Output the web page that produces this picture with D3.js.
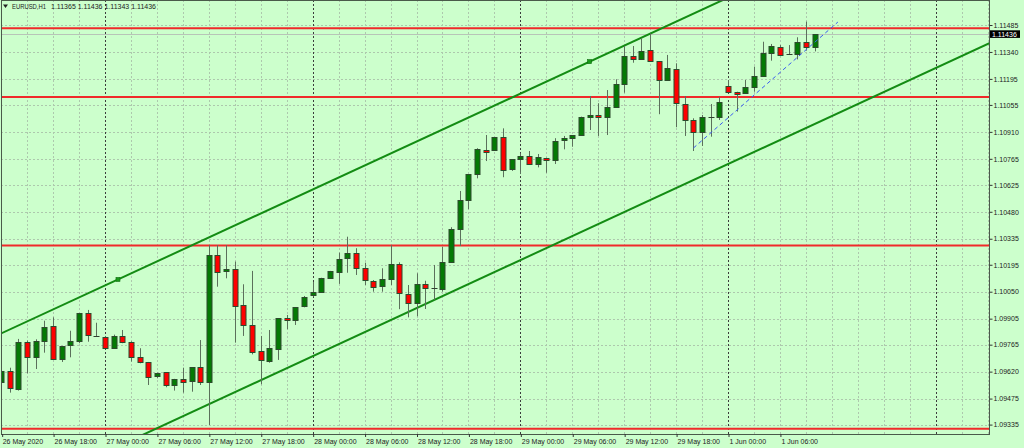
<!DOCTYPE html>
<html><head><meta charset="utf-8">
<script src="https://cdn.jsdelivr.net/npm/d3@7"></script>
<style>
html,body{margin:0;padding:0;background:#ccffcc;}
svg{display:block;}
text{font-family:"Liberation Sans",Arial,sans-serif;}
</style></head><body>
<svg id="c" width="1024" height="448"></svg>
<script>
// ---- data ----
const symbolName = "EURUSD,H1";
const ohlcHeader = "1.11365 1.11436 1.11343 1.11436";
const firstBar = -12; // bar index of 26 May 12:00 (index 0 = 27 May 00:00, hourly bars)
const opens = [1.09564,1.09624,1.09527,1.09780,1.09700,1.09787,1.09866,1.09687,1.09760,1.09781,1.09933,1.09812,
1.09808,1.09749,1.09812,1.09780,1.09697,1.09672,1.09593,1.09618,1.09547,1.09581,1.09566,1.09643,
1.09563,1.10248,1.10160,1.10172,1.09979,1.09871,1.09730,1.09674,1.09740,1.09910,1.09894,1.09969,
1.10029,1.10050,1.10125,1.10158,1.10230,1.10257,1.10176,1.10108,1.10077,1.10117,1.10198,1.10036,
1.09988,1.10092,1.10069,1.10065,1.10206,1.10386,1.10543,1.10682,1.10813,1.10809,1.10884,1.10709,
1.10762,1.10780,1.10736,1.10771,1.10762,1.10863,1.10876,1.10893,1.10988,1.11001,1.10988,1.11045,
1.11168,1.11318,1.11300,1.11351,1.11291,1.11189,1.11248,1.11060,1.10974,1.10908,1.10988,1.10990,
1.11157,1.11126,1.11118,1.11153,1.11211,1.11336,1.11368,1.11327,1.11329,1.11392,1.11365];
const highs = [1.09726,1.09641,1.09796,1.09787,1.09794,1.09894,1.09912,1.09758,1.09840,1.09934,1.09952,1.09883,
1.09812,1.09819,1.09844,1.09783,1.09746,1.09672,1.09615,1.09618,1.09581,1.09641,1.09643,1.09790,
1.10301,1.10301,1.10301,1.10212,1.10090,1.10162,1.09812,1.09844,1.09907,1.09925,1.09966,1.10027,
1.10102,1.10125,1.10162,1.10260,1.10346,1.10284,1.10206,1.10113,1.10176,1.10301,1.10208,1.10086,
1.10149,1.10109,1.10194,1.10292,1.10397,1.10592,1.10683,1.10822,1.10893,1.10881,1.10929,1.10763,
1.10795,1.10807,1.10791,1.10771,1.10876,1.10888,1.10893,1.10992,1.11103,1.11064,1.11135,1.11193,
1.11372,1.11372,1.11414,1.11440,1.11291,1.11324,1.11279,1.11103,1.10983,1.11001,1.11060,1.11098,
1.11189,1.11126,1.11189,1.11261,1.11395,1.11383,1.11377,1.11377,1.11419,1.11503,1.11436];
const lows = [1.09554,1.09507,1.09518,1.09611,1.09634,1.09722,1.09685,1.09672,1.09697,1.09773,1.09781,1.09809,
1.09747,1.09746,1.09773,1.09674,1.09665,1.09548,1.09584,1.09536,1.09518,1.09507,1.09512,1.09548,
1.09333,1.10077,1.10122,1.09776,1.09812,1.09713,1.09552,1.09668,1.09683,1.09848,1.09871,1.09966,
1.10023,1.10049,1.10124,1.10092,1.10152,1.10140,1.10086,1.10050,1.10050,1.10086,1.09956,1.09912,
1.09918,1.09957,1.10006,1.10050,1.10205,1.10296,1.10494,1.10660,1.10753,1.10808,1.10666,1.10700,
1.10683,1.10732,1.10719,1.10690,1.10737,1.10816,1.10830,1.10888,1.10920,1.10888,1.10893,1.11042,
1.11121,1.11282,1.11297,1.11288,1.11005,1.11185,1.10935,1.10888,1.10807,1.10834,1.10884,1.10974,
1.11119,1.11019,1.11116,1.11126,1.11207,1.11293,1.11318,1.11324,1.11300,1.11347,1.11343];
const closes = [1.09624,1.09534,1.09778,1.09700,1.09787,1.09862,1.09686,1.09758,1.09783,1.09933,1.09812,1.09812,
1.09749,1.09812,1.09781,1.09697,1.09668,1.09593,1.09611,1.09547,1.09581,1.09566,1.09643,1.09563,
1.10248,1.10155,1.10171,1.09975,1.09871,1.09727,1.09679,1.09746,1.09907,1.09898,1.09966,1.10020,
1.10047,1.10125,1.10161,1.10226,1.10257,1.10176,1.10113,1.10074,1.10117,1.10198,1.10042,1.09988,
1.10092,1.10069,1.10069,1.10212,1.10386,1.10544,1.10683,1.10816,1.10803,1.10881,1.10709,1.10762,
1.10780,1.10736,1.10773,1.10762,1.10863,1.10876,1.10893,1.10988,1.11001,1.10988,1.11042,1.11168,
1.11320,1.11300,1.11345,1.11291,1.11189,1.11252,1.11064,1.10972,1.10908,1.10988,1.10988,1.11071,
1.11123,1.11114,1.11150,1.11211,1.11336,1.11372,1.11324,1.11327,1.11392,1.11366,1.11436];

const xLabelBars = [-12,-6,0,6,12,18,24,30,36,42,48,54,60,66,72,78];
const xLabels = ["26 May 2020","26 May 18:00","27 May 00:00","27 May 06:00","27 May 12:00","27 May 18:00",
"28 May 00:00","28 May 06:00","28 May 12:00","28 May 18:00","29 May 00:00","29 May 06:00",
"29 May 12:00","29 May 18:00","1 Jun 00:00","1 Jun 06:00"];
const yTicks = [1.11485,1.11340,1.11195,1.11055,1.10910,1.10765,1.10625,1.10480,1.10335,1.10195,
1.10050,1.09905,1.09765,1.09620,1.09475,1.09335];
const daySeparatorBars = [0,24,48,72,96];
const levelPrices = [1.11467,1.11098,1.10298,1.09312];
const channelUpperBars = [1.5,56], channelUpperPrices = [1.10116,1.11288];
const channelLowerBars = [13,102], channelLowerPrices = [1.09466,1.11383];
const blueBars = [68,84.7], bluePrices = [1.10823,1.11501];
const bidPrice = 1.11436;

// ---- layout ----
const L = 1, R = 989, T = 0, B = 434;
const svg = d3.select("#c");
const x = d3.scaleLinear().domain([0,72]).range([105,728]);
const y = d3.scaleLinear().domain([1.09335,1.11485]).range([424.6,25]);

svg.append("rect").attr("width",1024).attr("height",448).attr("fill","#ccffcc");
svg.append("defs").append("clipPath").attr("id","plot")
  .append("rect").attr("x",L).attr("y",T).attr("width",R-L).attr("height",B-T);

const gridColor = "#adc8ad";
// vertical grid via axis
const gridBars = d3.range(-12, 103, 3);
svg.append("g").attr("transform",`translate(0,${B})`)
  .call(d3.axisBottom(x).tickValues(gridBars).tickSize(-(B-T)).tickFormat(""))
  .call(g=>{g.select(".domain").remove();
    g.selectAll("line").attr("stroke",gridColor).attr("stroke-dasharray","2,2").attr("shape-rendering","crispEdges");});
// horizontal grid via axis
svg.append("g").attr("transform",`translate(${L},0)`)
  .call(d3.axisRight(y).tickValues(yTicks).tickSize(R-L).tickFormat(""))
  .call(g=>{g.select(".domain").remove();
    g.selectAll("line").attr("stroke",gridColor).attr("stroke-dasharray","2,2").attr("shape-rendering","crispEdges");});
// day separators
svg.append("g").selectAll("line").data(daySeparatorBars.filter(b=>x(b)<R)).join("line")
  .attr("x1",d=>Math.round(x(d))+0.5).attr("x2",d=>Math.round(x(d))+0.5)
  .attr("y1",T).attr("y2",B).attr("stroke","#3c3c3c").attr("stroke-dasharray","2,2");

const plot = svg.append("g").attr("clip-path","url(#plot)");

// horizontal levels
plot.append("g").selectAll("line").data(levelPrices).join("line")
  .attr("x1",L).attr("x2",R).attr("y1",d=>y(d)).attr("y2",d=>y(d))
  .attr("stroke","#f02a2a").attr("stroke-width",2);
// bid line
plot.append("line").attr("x1",L).attr("x2",R).attr("y1",Math.round(y(bidPrice))+0.5).attr("y2",Math.round(y(bidPrice))+0.5)
  .attr("stroke","#b8c4b8").attr("stroke-width",1);

// channel lines
function extLine(bars, prices){
  const s = (prices[1]-prices[0])/(bars[1]-bars[0]);
  const b0 = x.invert(L-5), b1 = x.invert(R+5);
  return [[b0, prices[0]+s*(b0-bars[0])],[b1, prices[0]+s*(b1-bars[0])]];
}
const lineGen = d3.line().x(d=>x(d[0])).y(d=>y(d[1]));
[[channelUpperBars,channelUpperPrices],[channelLowerBars,channelLowerPrices]].forEach(([b,p])=>{
  plot.append("path").attr("d",lineGen(extLine(b,p))).attr("fill","none")
    .attr("stroke","#138c13").attr("stroke-width",2);
});
// anchor markers on upper line
plot.append("g").selectAll("rect").data(channelUpperBars.map((b,i)=>[b,channelUpperPrices[i]])).join("rect")
  .attr("x",d=>x(d[0])-2).attr("y",d=>y(d[1])-2).attr("width",4).attr("height",4)
  .attr("fill","#1a9a1a").attr("stroke","#0d6d0d").attr("stroke-width",0.6);

// candles
const bars = opens.map((o,i)=>({i:firstBar+i,o,h:highs[i],l:lows[i],c:closes[i]}));
const cg = plot.append("g");
bars.forEach(d=>{
  const cx = Math.round(x(d.i))+0.5;
  cg.append("line").attr("x1",cx).attr("x2",cx).attr("y1",y(d.h)).attr("y2",y(d.l))
    .attr("stroke","#5b705b").attr("stroke-width",1);
  if (d.o===d.c){
    cg.append("line").attr("x1",cx-3).attr("x2",cx+3).attr("y1",Math.round(y(d.o))+0.5).attr("y2",Math.round(y(d.o))+0.5)
      .attr("stroke","#2f3f2f").attr("stroke-width",1);
  } else {
    const top = y(Math.max(d.o,d.c)), bot = y(Math.min(d.o,d.c));
    cg.append("rect").attr("x",cx-2.5).attr("y",Math.round(top)+0.5)
      .attr("width",5).attr("height",Math.max(1,Math.round(bot-top)))
      .attr("fill", d.c>d.o ? "#047a04" : "#ff0000")
      .attr("stroke","#2c4a2c").attr("stroke-width",1);
  }
});

// blue dashed
plot.append("path").attr("d",lineGen(blueBars.map((b,i)=>[b,bluePrices[i]])))
  .attr("fill","none").attr("stroke","#3a5cf0").attr("stroke-width",1).attr("stroke-dasharray","4,3");

// frame
svg.append("rect").attr("x",L+0.5).attr("y",T+0.5).attr("width",R-L).attr("height",B-T)
  .attr("fill","none").attr("stroke","#4a5a4a").attr("stroke-width",1);

// right axis
const ya = svg.append("g").attr("transform",`translate(${R+0.5},0)`)
  .call(d3.axisRight(y).tickValues(yTicks).tickSize(3).tickPadding(1).tickFormat(d3.format(".5f")));
ya.select(".domain").remove();
ya.selectAll("line").attr("stroke","#333");
ya.selectAll("text").attr("fill","#222").attr("font-size","7px")
  .attr("font-family","'Liberation Sans',Arial,sans-serif");

// bid label
const by = y(bidPrice);
svg.append("rect").attr("x",990).attr("y",by-3.8).attr("width",30).attr("height",7.6).attr("fill","#000");
svg.append("text").attr("x",992).attr("y",by+2.5).attr("fill","#fff").attr("font-size","7px")
  .text(d3.format(".5f")(bidPrice));

// bottom axis labels
const xa = svg.append("g").attr("transform",`translate(0,${B})`)
  .call(d3.axisBottom(x).tickValues(xLabelBars).tickSize(3).tickFormat((d,i)=>xLabels[i]));
xa.select(".domain").remove();
xa.selectAll("line").attr("stroke","#333").attr("transform",(d)=>`translate(${d===firstBar?1:0.5},0)`);
xa.selectAll("text").attr("text-anchor","start").attr("fill","#222").attr("font-size","7px")
  .attr("font-family","'Liberation Sans',Arial,sans-serif")
  .attr("dy",null).attr("y",10).attr("x",1);

// title
svg.append("path").attr("d","M3,4.5 L8,4.5 L5.5,8 Z").attr("fill","#222");
svg.append("text").attr("x",12).attr("y",9).attr("fill","#222").attr("font-size","7px")
  .attr("textLength",34).attr("lengthAdjust","spacingAndGlyphs").text(symbolName);
svg.append("text").attr("x",51).attr("y",9).attr("fill","#222").attr("font-size","7px").text(ohlcHeader);
</script></body></html>
